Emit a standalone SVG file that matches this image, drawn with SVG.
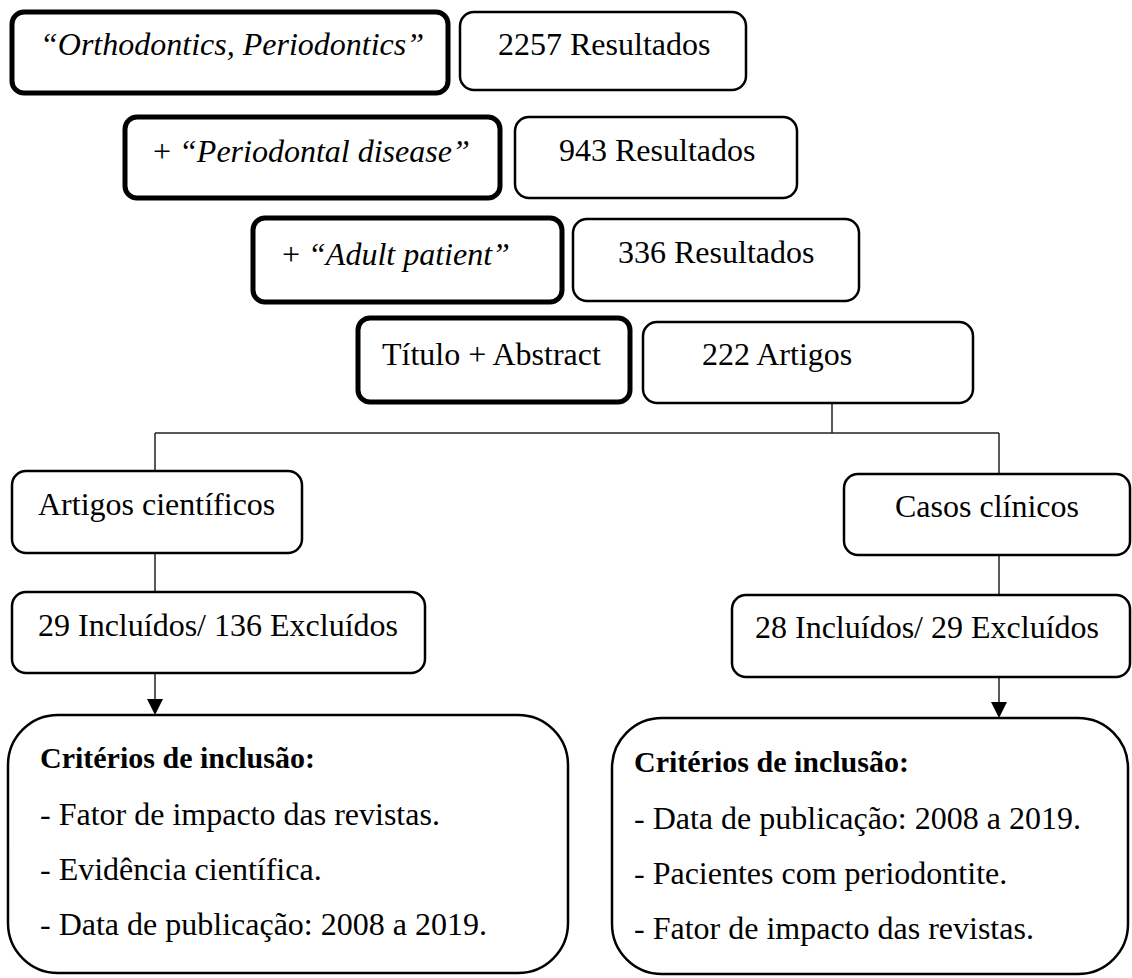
<svg xmlns="http://www.w3.org/2000/svg" width="1132" height="978" viewBox="0 0 1132 978">
<defs>
<style>
.thick{fill:#fff;stroke:#000;stroke-width:5}
.thin{fill:#fff;stroke:#000;stroke-width:2.5}
.t{font-family:"Liberation Serif","Times New Roman",serif;font-size:32px;fill:#000}
.i{font-style:italic}
.h{font-family:"Liberation Serif","Times New Roman",serif;font-size:30px;font-weight:bold;fill:#000}
.c{stroke:#222;stroke-width:1.5;fill:none}
</style>
</defs>
<rect width="1132" height="978" fill="#fff"/>
<g id="connectors">
<line class="c" x1="832" y1="403" x2="832" y2="433"/>
<line class="c" x1="155" y1="433" x2="999" y2="433"/>
<line class="c" x1="155" y1="433" x2="155" y2="471"/>
<line class="c" x1="999" y1="433" x2="999" y2="474"/>
<line class="c" x1="155" y1="553" x2="155" y2="592"/>
<line class="c" x1="999" y1="555" x2="999" y2="595"/>
<path class="c" d="M155,673 L155,699"/>
<path d="M147,699 L163,699 L155,715 Z" fill="#000"/>
<path class="c" d="M999,677 L999,702"/>
<path d="M991,702 L1007,702 L999,718 Z" fill="#000"/>
</g>
<g id="n1"><rect class="thick" x="12" y="12" width="436" height="81" rx="12"/><text class="t i" x="40" y="55">“Orthodontics, Periodontics”</text></g>
<g id="n2"><rect class="thin" x="460" y="12" width="286" height="78" rx="14"/><text class="t" x="498" y="55">2257 Resultados</text></g>
<g id="n3"><rect class="thick" x="125" y="117" width="375" height="81" rx="12"/><text class="t" x="153" y="162">+ <tspan class="i">“Periodontal disease”</tspan></text></g>
<g id="n4"><rect class="thin" x="515" y="117" width="282" height="81" rx="14"/><text class="t" x="559" y="161">943 Resultados</text></g>
<g id="n5"><rect class="thick" x="253" y="218" width="309" height="84" rx="12"/><text class="t" x="282" y="265">+ <tspan class="i">“Adult patient”</tspan></text></g>
<g id="n6"><rect class="thin" x="573" y="219" width="286" height="82" rx="14"/><text class="t" x="618" y="263">336 Resultados</text></g>
<g id="n7"><rect class="thick" x="358" y="318" width="272" height="84" rx="12"/><text class="t" x="382" y="365">Título + Abstract</text></g>
<g id="n8"><rect class="thin" x="643" y="322" width="330" height="81" rx="14"/><text class="t" x="702" y="365">222 Artigos</text></g>
<g id="n9"><rect class="thin" x="12" y="471" width="290" height="82" rx="14"/><text class="t" x="38" y="515">Artigos científicos</text></g>
<g id="n10"><rect class="thin" x="844" y="474" width="286" height="81" rx="14"/><text class="t" x="895" y="517">Casos clínicos</text></g>
<g id="n11"><rect class="thin" x="12" y="592" width="413" height="81" rx="14"/><text class="t" x="38" y="636">29 Incluídos/ 136 Excluídos</text></g>
<g id="n12"><rect class="thin" x="732" y="595" width="398" height="82" rx="14"/><text class="t" x="755" y="638">28 Incluídos/ 29 Excluídos</text></g>
<g id="n13"><rect class="thin" x="8" y="715" width="560" height="258" rx="50"/>
<text class="h" x="40" y="768">Critérios de inclusão:</text>
<text class="t" x="40" y="825">- Fator de impacto das revistas.</text>
<text class="t" x="40" y="880">- Evidência científica.</text>
<text class="t" x="40" y="935">- Data de publicação: 2008 a 2019.</text></g>
<g id="n14"><rect class="thin" x="612" y="718" width="516" height="256" rx="50"/>
<text class="h" x="634" y="772">Critérios de inclusão:</text>
<text class="t" x="634" y="829">- Data de publicação: 2008 a 2019.</text>
<text class="t" x="634" y="884">- Pacientes com periodontite.</text>
<text class="t" x="634" y="939">- Fator de impacto das revistas.</text></g>
</svg>
